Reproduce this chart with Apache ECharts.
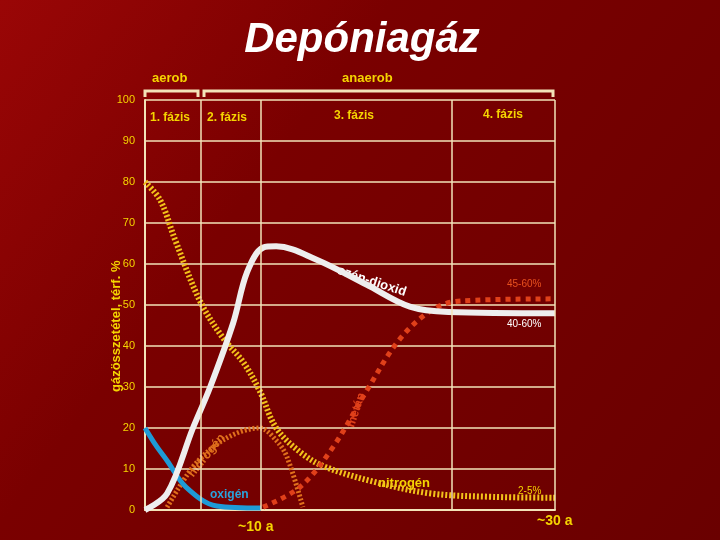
<!DOCTYPE html>
<html><head><meta charset="utf-8">
<script src="https://cdn.jsdelivr.net/npm/echarts@6/dist/echarts.min.js"></script>
<style>html,body{margin:0;padding:0}#c{width:720px;height:540px}</style>
</head><body><div id="c"></div>
<script>
(function() {
  const yTicks = [0, 10, 20, 30, 40, 50, 60, 70, 80, 90, 100];
  const phaseBounds = [13.7, 28.3, 74.9];
  const phaseLabels = ['1. fázis', '2. fázis', '3. fázis', '4. fázis'];
  const nitrogen = [[0,80],[3.7,75.6],[7.3,66],[13.4,51],[19,42],[24,36],[28,29],[32,20],[38,14],[44,10.5],[57,6.6],[70,4],[85,3.2],[100,3]];
  const co2 = [[0,0],[5.4,4],[11.7,20],[15.9,30],[21.5,45.6],[24.9,58],[28.8,64],[32,64.3],[42,61],[54,55],[64.6,49.6],[74,48.3],[100,48]];
  const oxygen = [[0,20],[2.5,16],[5.4,12],[10,5.6],[17.5,1],[28.3,0.5]];
  const hydrogen = [[5.4,0.7],[11.7,10.5],[17.5,16],[23,19],[28,20],[32,17],[34.6,13],[38.5,0.7]];
  const methane = [[28.8,0.7],[37.8,5.6],[45.9,15.4],[54,29],[62,41.5],[70,48.8],[77,51],[100,51.5]];

  const chart = echarts.init(document.getElementById('c'));
  const cream = '#f3e3b8', yellow = '#f5d400';
  const txt = (x, y, t, o) => Object.assign({ type: 'text', x: x, y: y,
    style: Object.assign({ text: t, fill: yellow, font: 'bold 12px Arial' }, o || {}) }, o && o.rot ? { rotation: o.rot } : {});
  const curve = { smooth: 0.35, symbol: 'none' };

  const option = {
    animation: false,
    backgroundColor: new echarts.graphic.LinearGradient(0, 0, 1, 1, [
      { offset: 0, color: '#9a0606' }, { offset: 0.35, color: '#7a0000' }, { offset: 1, color: '#6a0000' }
    ]),
    grid: { left: 145, right: 165, top: 100, bottom: 30 },
    xAxis: { type: 'value', min: 0, max: 100, axisLabel: { show: false }, axisTick: { show: false },
      splitLine: { show: false }, axisLine: { lineStyle: { color: cream, width: 2 } } },
    yAxis: { type: 'value', min: 0, max: 100, interval: 10,
      axisLabel: { color: yellow, fontSize: 11, fontFamily: 'Arial', margin: 10 },
      axisTick: { show: false }, axisLine: { show: true, lineStyle: { color: cream, width: 2 } },
      splitLine: { lineStyle: { color: cream, width: 1.5 } } },
    graphic: [
      { type: 'text', x: 362, y: 40, style: { text: 'Depóniagáz', fill: '#fff', font: 'italic bold 42px Arial', align: 'center', verticalAlign: 'middle' } },
      txt(152, 72, 'aerob', { font: 'bold 13px Arial' }),
      txt(342, 72, 'anaerob', { font: 'bold 13px Arial' }),
      { type: 'polyline', shape: { points: [[145,97],[145,91],[198,91],[198,97]] }, style: { stroke: cream, lineWidth: 3, fill: null } },
      { type: 'polyline', shape: { points: [[204,97],[204,91],[553,91],[553,97]] }, style: { stroke: cream, lineWidth: 3, fill: null } },
      txt(150, 112, phaseLabels[0]), txt(207, 112, phaseLabels[1]),
      txt(334, 110, phaseLabels[2]), txt(483, 109, phaseLabels[3]),
      { type: 'text', x: 110, y: 392, rotation: Math.PI / 2, style: { text: 'gázösszetétel, térf. %', fill: yellow, font: 'bold 13px Arial' } },
      txt(238, 520, '~10 a', { font: 'bold 14px Arial' }),
      txt(537, 514, '~30 a', { font: 'bold 14px Arial' }),
      txt(340, 264, 'szén-dioxid', { fill: '#fff', font: 'bold 13px Arial', rot: -0.32 }),
      txt(507, 279, '45-60%', { fill: '#e8501e', font: '10px Arial' }),
      txt(507, 319, '40-60%', { fill: '#fff', font: '10px Arial' }),
      txt(378, 477, 'nitrogén', { font: 'bold 13px Arial' }),
      txt(518, 486, '2-5%', { font: '10px Arial' }),
      txt(210, 489, 'oxigén', { fill: '#29a3dc', font: 'bold 12px Arial' }),
      txt(186, 472, 'hidrogén', { fill: '#e0701c', font: 'bold 12px Arial', rot: 0.9 }),
      txt(345, 425, 'metán', { fill: '#e0401a', font: 'bold 12px Arial', rot: 1.25 })
    ],
    series: [
      { type: 'line', data: [], silent: true,
        markLine: { symbol: 'none', silent: true, label: { show: false },
          lineStyle: { color: cream, width: 1.5, type: 'solid' },
          data: phaseBounds.map(v => ({ xAxis: v })).concat([{ xAxis: 100 }]) } },
      Object.assign({ name: 'nitrogén', type: 'line', data: nitrogen,
        lineStyle: { color: '#f2c21a', width: 6, type: [2, 2] } }, curve),
      Object.assign({ name: 'hidrogén', type: 'line', data: hydrogen,
        lineStyle: { color: '#e0701c', width: 5, type: [2, 2] } }, curve),
      Object.assign({ name: 'metán', type: 'line', data: methane,
        lineStyle: { color: '#e0401a', width: 5, type: [5, 5] } }, curve),
      Object.assign({ name: 'oxigén', type: 'line', data: oxygen,
        lineStyle: { color: '#1e9ad6', width: 5 } }, curve),
      Object.assign({ name: 'szén-dioxid', type: 'line', data: co2,
        lineStyle: { color: '#eeeeee', width: 6 } }, curve)
    ]
  };
  chart.setOption(option);
})();
</script></body></html>
